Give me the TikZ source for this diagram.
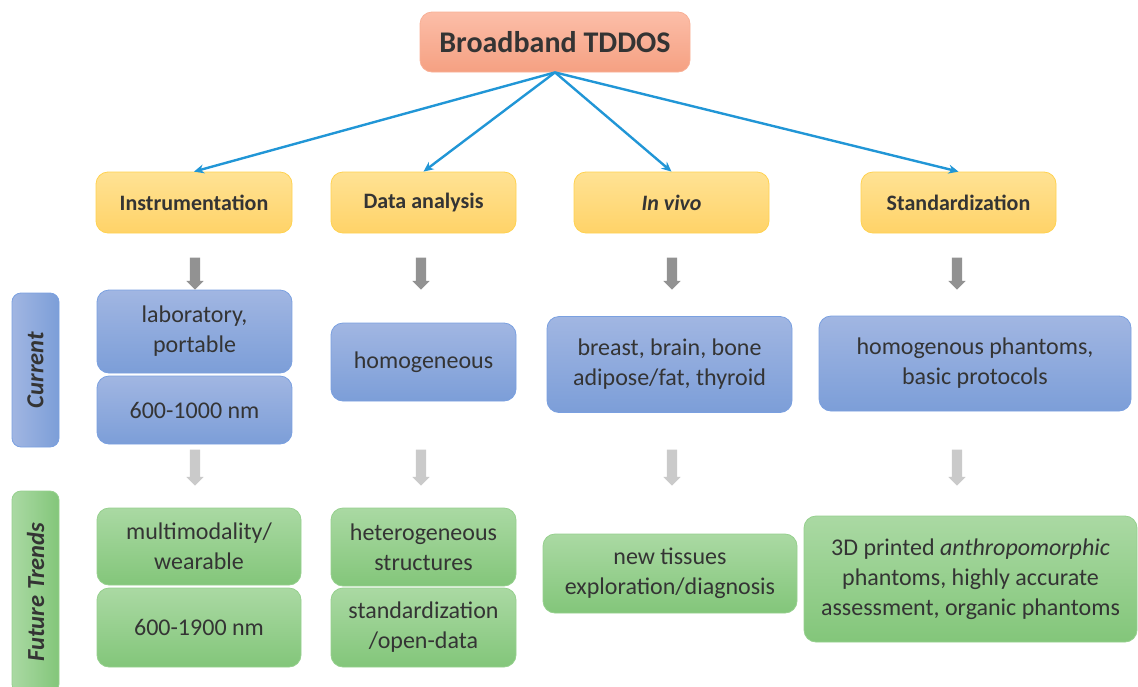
\documentclass[tikz,border=0pt]{standalone}
\usepackage{fontspec}
\setmainfont{Carlito}
\usetikzlibrary{shapes.arrows,arrows.meta}

\definecolor{txt}{RGB}{52,52,52}
\definecolor{linkblue}{RGB}{33,150,214}
\definecolor{titletop}{RGB}{252,190,168}
\definecolor{titlebot}{RGB}{245,160,130}
\definecolor{titleedge}{RGB}{248,176,150}
\definecolor{hdrtop}{RGB}{255,226,148}
\definecolor{hdrbot}{RGB}{255,211,104}
\definecolor{hdredge}{RGB}{255,210,80}
\definecolor{bluetop}{RGB}{161,182,226}
\definecolor{bluebot}{RGB}{124,158,216}
\definecolor{blueedge}{RGB}{122,160,224}
\definecolor{greentop}{RGB}{170,217,163}
\definecolor{greenbot}{RGB}{131,198,122}
\definecolor{greenedge}{RGB}{150,208,142}
\definecolor{darkgray}{RGB}{146,146,146}
\definecolor{lightgray}{RGB}{202,202,202}

\tikzset{
  box/.style={rounded corners=12pt, text=txt, align=center, inner sep=0pt, line width=0.8pt},
  titlebox/.style={box, top color=titletop, bottom color=titlebot, draw=titleedge,
    font=\bfseries\fontsize{30}{36}\selectfont},
  hdrbox/.style={box, top color=hdrtop, bottom color=hdrbot, draw=hdredge,
    font=\bfseries\fontsize{22}{26}\selectfont},
  curbox/.style={box, top color=bluetop, bottom color=bluebot, draw=blueedge,
    font=\fontsize{24}{30}\selectfont},
  futbox/.style={box, top color=greentop, bottom color=greenbot, draw=greenedge,
    font=\fontsize{24}{30}\selectfont},
  sidelabel/.style={box, rounded corners=9pt},
  sidetext/.style={rotate=90, text=txt, font=\bfseries\itshape\fontsize{24.5}{28}\selectfont},
  link/.style={draw=linkblue, line width=2.4pt, -{Stealth[length=10pt,width=9pt]}},
  blockdown/.style={single arrow, draw=none, rotate=-90, inner sep=5pt,
    single arrow head extend=3.5pt, single arrow tip angle=90},
}

\begin{document}
\begin{tikzpicture}[x=1pt, y=-1pt]
\useasboundingbox (0,0) rectangle (1138,686);
\clip (0,0) rectangle (1138,686);

% top node
\node[titlebox, minimum width=270pt, minimum height=60pt] (title) at (555,42) {Broadband TDDOS};

% topic headers
\node[hdrbox, minimum width=196pt, minimum height=61pt] (h1) at (194,202.5) {Instrumentation};
\node[hdrbox, minimum width=185pt, minimum height=61pt] (h2) at (423.5,202.5) {Data analysis};
\node[hdrbox, minimum width=195pt, minimum height=61pt] (h3) at (671.5,202.5) {\textit{In vivo}};
\node[hdrbox, minimum width=195pt, minimum height=61pt] (h4) at (958.5,202.5) {Standardization};

% links from the top node
\coordinate (src) at (title.south);
\draw[link] (src) -- (h1.north);
\draw[link] (src) -- (h2.north);
\draw[link] (src) -- (h3.north);
\draw[link] (src) -- (h4.north);

% row labels
\node[sidelabel, left color=bluetop, right color=bluebot, draw=blueedge,
  minimum width=47pt, minimum height=154pt] (rowcur) at (35.5,370) {};
\node[sidetext] (rowcurtxt) at (rowcur.center) {Current};
\node[sidelabel, left color=greentop, right color=greenbot, draw=greenedge,
  minimum width=47pt, minimum height=202pt] (rowfut) at (35.5,592) {};
\node[sidetext] (rowfuttxt) at (rowfut.center) {Future Trends};

% current state
\node[curbox, minimum width=195pt, minimum height=83pt] (c1a) at (194.5,331.5) {laboratory,\\portable};
\node[curbox, minimum width=195pt, minimum height=68pt] (c1b) at (194.5,410) {600-1000 nm};
\node[curbox, minimum width=185pt, minimum height=78pt] (c2) at (423.5,362) {homogeneous};
\node[curbox, minimum width=245pt, minimum height=96pt] (c3) at (669.5,364.5) {breast, brain, bone\\adipose/fat, thyroid};
\node[curbox, minimum width=312pt, minimum height=95pt] (c4) at (975,363.5) {homogenous phantoms,\\basic protocols};

% future trends
\node[futbox, minimum width=204pt, minimum height=77pt] (f1a) at (199,546.5) {multimodality/\\wearable};
\node[futbox, minimum width=204pt, minimum height=79pt] (f1b) at (199,627.5) {600-1900 nm};
\node[futbox, minimum width=185pt, minimum height=78pt] (f2a) at (423.5,547) {heterogeneous\\structures};
\node[futbox, minimum width=185pt, minimum height=79pt] (f2b) at (423.5,627.5) {standardization\\/open-data};
\node[futbox, minimum width=254pt, minimum height=79pt] (f3) at (670,573.5) {new tissues\\exploration/diagnosis};
\node[futbox, minimum width=333pt, minimum height=126pt] (f4) at (970.5,579) {3D printed \textit{anthropomorphic}\\phantoms, highly accurate\\assessment, organic phantoms};

% block arrows between the rows
\node[blockdown, fill=darkgray, minimum height=32pt] (d1) at (195,271) {};
\node[blockdown, fill=darkgray, minimum height=32pt] (d2) at (421,271) {};
\node[blockdown, fill=darkgray, minimum height=32pt] (d3) at (672,271) {};
\node[blockdown, fill=darkgray, minimum height=32pt] (d4) at (957,271) {};
\node[blockdown, fill=lightgray, minimum height=36pt] (l1) at (195,465) {};
\node[blockdown, fill=lightgray, minimum height=36pt] (l2) at (421,465) {};
\node[blockdown, fill=lightgray, minimum height=36pt] (l3) at (672,465) {};
\node[blockdown, fill=lightgray, minimum height=36pt] (l4) at (957,465) {};
\end{tikzpicture}
\end{document}
